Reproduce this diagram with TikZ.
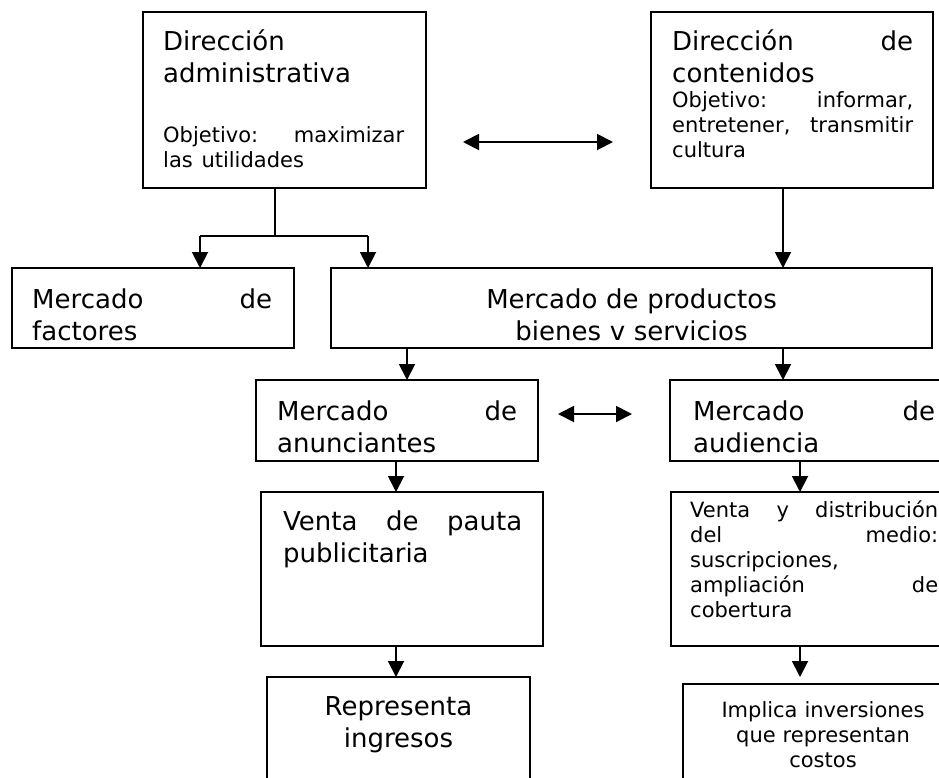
\documentclass[tikz,border=0pt]{standalone}
\usepackage{fontspec}
\setmainfont{DejaVu Sans}
\usetikzlibrary{arrows.meta}
\newcommand{\bigtxt}{\fontsize{26}{32}\selectfont}
\newcommand{\smalltxt}{\fontsize{21}{25}\selectfont}

\begin{document}
\begin{tikzpicture}[
      x=1pt, y=-1pt,
      box/.style={draw,line width=1.9pt,anchor=north west,outer sep=0pt,inner sep=0pt},
      txt/.style={anchor=base west,inner sep=0pt,align=left,font=\bigtxt},
      ctxt/.style={anchor=base,inner sep=0pt,align=center,font=\bigtxt,text width=300},
      link/.style={line width=1.9pt},
      arr/.style={-{Triangle[length=16pt,width=16pt]},line width=1.9pt},
      dbl/.style={{Triangle[length=16pt,width=16pt]}-{Triangle[length=16pt,width=16pt]},line width=1.9pt}
      ]
      \path[use as bounding box,clip] (0,0) rectangle (939,777);
      % boxes
      % direccion
      \node[box,minimum width=283,minimum height=176] (adm) at (143,12) {};
      \node[box,minimum width=282,minimum height=176] (cont) at (651,12) {};
      % mercados
      \node[box,minimum width=282,minimum height=80] (fact) at (12,268) {};
      \node[box,minimum width=601,minimum height=80] (prod) at (331,268) {};
      \node[box,minimum width=282,minimum height=81] (anun) at (256,380) {};
      \node[box,minimum width=300,minimum height=81] (aud) at (670,380) {};
      % ventas
      \node[box,minimum width=282,minimum height=154] (pauta) at (261,492) {};
      \node[box,minimum width=300,minimum height=154] (dist) at (671,492) {};
      % resultados
      \node[box,minimum width=263,minimum height=130] (repr) at (267,677) {};
      \node[box,minimum width=280,minimum height=130] (impl) at (683,684) {};
      % texts
      \node[txt,text width=241] (adm text) at ([shift={(20,38)}]adm.north west)
        {Dirección\\administrativa\par\vspace{35pt}\smalltxt Objetivo:\hfill maximizar\\las utilidades\par};
      \node[txt,text width=241] (cont text) at ([shift={(21,38)}]cont.north west)
        {Dirección\hfill de\\contenidos\par\smalltxt Objetivo:\hfill informar,\\entretener,\hfill transmitir\\cultura\par};
      \node[txt,text width=240] (fact text) at ([shift={(20,40)}]fact.north west)
        {Mercado\hfill de\\factores\par};
      \node[ctxt] (prod text) at ([shift={(0,40)}]prod.north)
        {Mercado de productos\\bienes v servicios\par};
      \node[txt,text width=240] (anun text) at ([shift={(21,40)}]anun.north west)
        {Mercado\hfill de\\anunciantes\par};
      \node[txt,text width=242] (aud text) at ([shift={(23,40)}]aud.north west)
        {Mercado\hfill de\\audiencia\par};
      \node[txt,text width=239] (pauta text) at ([shift={(22,38)}]pauta.north west)
        {Venta\hfill de\hfill pauta\\publicitaria\par};
      \node[txt,text width=248,font=\smalltxt] (dist text) at ([shift={(19,25)}]dist.north west)
        {Venta\hfill y\hfill distribución\\del\hfill medio:\\suscripciones,\\ampliación\hfill de\\cobertura\par};
      \node[ctxt] (repr text) at ([shift={(0,38)}]repr.north)
        {Representa\\ingresos\par};
      \node[ctxt,font=\smalltxt,text width=240] (impl text) at ([shift={(0,33)}]impl.north)
        {Implica inversiones\\que representan\\costos\par};
      % columns of the arrows
      \coordinate (fork) at (275,236);
      \coordinate (forkL) at (200,236);
      \coordinate (forkR) at (368,236);
      \coordinate (colA) at (407,0);
      \coordinate (colB) at (783,0);
      \coordinate (colC) at (396,0);
      \coordinate (colD) at (800,0);
      % arrows
      \draw[link] (adm.south -| fork) -- (fork);
      \draw[link] (forkL) -- (forkR);
      \draw[arr] (forkL) -- (forkL |- fact.north);
      \draw[arr] (forkR) -- (forkR |- prod.north);
      \draw[arr] (cont.south -| colB) -- (prod.north -| colB);
      \draw[arr] (prod.south -| colA) -- (anun.north -| colA);
      \draw[arr] (prod.south -| colB) -- (aud.north -| colB);
      \draw[arr] (anun.south -| colC) -- (pauta.north -| colC);
      \draw[arr] (pauta.south -| colC) -- (repr.north -| colC);
      \draw[arr] (aud.south -| colD) -- (dist.north -| colD);
      \draw[arr,shorten >=7pt] (dist.south -| colD) -- (impl.north -| colD);
      % both ways
      \coordinate (top L) at (463,142);
      \coordinate (top R) at (613,142);
      \coordinate (mid L) at (558,414);
      \coordinate (mid R) at (632,414);
      \draw[dbl] (top L) -- (top R);
      \draw[dbl] (mid L) -- (mid R);
\end{tikzpicture}
\end{document}
